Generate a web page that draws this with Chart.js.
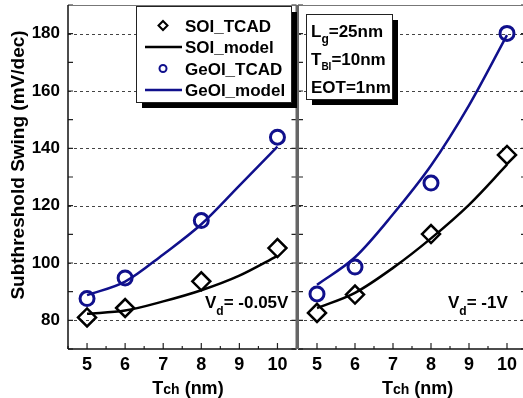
<!DOCTYPE html>
<html>
<head>
<meta charset="utf-8">
<script src="https://cdn.jsdelivr.net/npm/chart.js@4.4.1/dist/chart.umd.min.js"></script>
<style>
  body { margin: 0; width: 523px; height: 398px; overflow: hidden; background: #fff; position: relative; }
  canvas { position: absolute; top: 0; }
</style>
</head>
<body>
<canvas id="left" width="298" height="398" style="left:0"></canvas>
<canvas id="right" width="229" height="398" style="left:297px"></canvas>
<script>
const tch = [5, 6, 8, 10];
const tchModel = [5, 6, 7, 8, 9, 10];
const xTicks = [5, 6, 7, 8, 9, 10];
const yTicks = [80, 100, 120, 140, 160, 180];

// Vd = -0.05 V
const soiTcadLow = [81, 84.3, 93.6, 105.2];
const soiModelLow = [82.3, 83.4, 86.6, 90.5, 95.6, 102.5];
const geoiTcadLow = [87.6, 94.8, 114.8, 143.9];
const geoiModelLow = [88.8, 93.5, 103, 113.5, 127, 140.6];

// Vd = -1 V
const soiTcadHigh = [82.6, 89, 110.1, 137.7];
const soiModelHigh = [84.3, 89.6, 98.3, 108.6, 120.3, 134.3];
const geoiTcadHigh = [89.2, 98.6, 127.9, 180.1];
const geoiModelHigh = [92.4, 102, 117, 134, 155, 179.5];

const BLACK = '#000';
const BLUE = '#10108c';
const FONT = 'Arial, "Liberation Sans", sans-serif';

const pts = (xs, ys) => xs.map((x, i) => ({ x, y: ys[i] }));

function buildDatasets(soiT, soiM, geT, geM) {
  return [
    { label: 'SOI_TCAD', data: pts(tch, soiT), pointStyle: 'rectRot', pointRadius: 9,
      borderColor: BLACK, borderWidth: 2.5, backgroundColor: 'transparent', showLine: false },
    { label: 'GeOI_TCAD', data: pts(tch, geT), pointStyle: 'circle', pointRadius: 7,
      borderColor: BLUE, borderWidth: 3, backgroundColor: 'transparent', showLine: false },
    { label: 'SOI_model', data: pts(tchModel, soiM), showLine: true, pointRadius: 0,
      borderColor: BLACK, borderWidth: 2.5, cubicInterpolationMode: 'monotone' },
    { label: 'GeOI_model', data: pts(tchModel, geM), showLine: true, pointRadius: 0,
      borderColor: BLUE, borderWidth: 2.5, cubicInterpolationMode: 'monotone' }
  ];
}

// text with subscripts: parts = [[text, size, dy], ...]
function richText(ctx, x, y, parts) {
  ctx.textBaseline = 'alphabetic';
  ctx.textAlign = 'left';
  for (const [t, size, dy] of parts) {
    ctx.font = 'bold ' + size + 'px ' + FONT;
    ctx.fillText(t, x, y + (dy || 0));
    x += ctx.measureText(t).width;
  }
  return x;
}
function richWidth(ctx, parts) {
  let w = 0;
  for (const [t, size] of parts) {
    ctx.font = 'bold ' + size + 'px ' + FONT;
    w += ctx.measureText(t).width;
  }
  return w;
}

function shadowBox(ctx, x, y, w, h) {
  ctx.fillStyle = BLACK;
  ctx.fillRect(x + 6, y + 6, w, h);
  ctx.fillStyle = '#fff';
  ctx.fillRect(x, y, w, h);
  ctx.strokeStyle = '#222';
  ctx.lineWidth = 1;
  ctx.strokeRect(x + 0.5, y + 0.5, w, h);
}

const panelPlugin = {
  id: 'panel',
  beforeDatasetsDraw(chart) {
    const { ctx, chartArea: a, scales: { y } } = chart;
    ctx.save();
    ctx.strokeStyle = '#444';
    ctx.lineWidth = 1;
    ctx.setLineDash([3, 3]);
    yTicks.forEach(v => {
      const py = Math.round(y.getPixelForValue(v)) + 0.5;
      ctx.beginPath();
      ctx.moveTo(a.left, py);
      ctx.lineTo(a.right, py);
      ctx.stroke();
    });
    ctx.restore();
  },
  afterDatasetsDraw(chart) {
    const { ctx, chartArea: a, scales: { x, y } } = chart;
    const side = chart.options.plugins.panel.side;
    ctx.save();
    ctx.strokeStyle = '#222';
    ctx.lineWidth = 1.2;
    // x ticks, inward
    for (let v = 4.5; v <= 10.5; v += 0.5) {
      const px = x.getPixelForValue(v);
      const len = Number.isInteger(v) ? 6 : 3;
      ctx.beginPath();
      ctx.moveTo(px, a.bottom);
      ctx.lineTo(px, a.bottom - len);
      ctx.stroke();
    }
    // y ticks, inward on both sides
    for (let v = 70; v <= 190; v += 10) {
      const py = y.getPixelForValue(v);
      ctx.beginPath();
      ctx.moveTo(a.left, py);
      ctx.lineTo(a.left + 5, py);
      ctx.moveTo(a.right, py);
      ctx.lineTo(a.right - 5, py);
      ctx.stroke();
    }
    // frame
    ctx.strokeStyle = '#777';
    ctx.lineWidth = 1;
    ctx.beginPath();
    ctx.moveTo(a.left, a.top + 0.5);
    ctx.lineTo(a.right, a.top + 0.5);
    ctx.stroke();
    ctx.strokeStyle = '#111';
    ctx.lineWidth = 1.5;
    ctx.beginPath();
    ctx.moveTo(a.left, a.bottom);
    ctx.lineTo(a.right, a.bottom);
    ctx.stroke();
    ctx.strokeStyle = side === 'left' ? '#111' : '#666';
    ctx.lineWidth = side === 'left' ? 1.5 : 2;
    ctx.beginPath();
    ctx.moveTo(a.left, a.top);
    ctx.lineTo(a.left, a.bottom);
    ctx.stroke();
    if (side === 'left') {
      ctx.strokeStyle = '#666';
      ctx.lineWidth = 2;
      ctx.beginPath();
      ctx.moveTo(a.right, a.top);
      ctx.lineTo(a.right, a.bottom);
      ctx.stroke();
    }
    ctx.restore();
  },
  afterDraw(chart) {
    const { ctx, scales: { x } } = chart;
    const side = chart.options.plugins.panel.side;
    ctx.save();
    ctx.fillStyle = BLACK;

    // x axis title: T with small "ch"
    const xt = [['T', 18], ['ch', 14], [' (nm)', 18]];
    const cx = x.getPixelForValue(7.65);
    richText(ctx, cx - richWidth(ctx, xt) / 2, 394, xt);

    if (side === 'left') {
      // y axis title
      ctx.save();
      ctx.translate(19, 165);
      ctx.rotate(-Math.PI / 2);
      ctx.font = 'bold 19px ' + FONT;
      ctx.textAlign = 'center';
      ctx.textBaseline = 'middle';
      ctx.fillText('Subthreshold Swing (mV/dec)', 0, 0);
      ctx.restore();

      // legend
      shadowBox(ctx, 136, 6, 155, 96);
      const rows = chart.data.datasets;
      const order = ['SOI_TCAD', 'SOI_model', 'GeOI_TCAD', 'GeOI_model'];
      order.forEach((name, i) => {
        const ds = rows.find(d => d.label === name);
        const base = 31.5 + i * 21.5;
        const cy = base - 6;
        ctx.strokeStyle = ds.borderColor;
        ctx.lineWidth = 2;
        ctx.beginPath();
        if (ds.showLine) {
          ctx.lineWidth = 2.5;
          ctx.moveTo(145, cy);
          ctx.lineTo(182, cy);
        } else if (ds.pointStyle === 'rectRot') {
          ctx.moveTo(163, cy - 4.5);
          ctx.lineTo(167.5, cy);
          ctx.lineTo(163, cy + 4.5);
          ctx.lineTo(158.5, cy);
          ctx.closePath();
        } else {
          ctx.arc(163, cy, 3.5, 0, Math.PI * 2);
        }
        ctx.stroke();
        ctx.fillStyle = BLACK;
        richText(ctx, 185, base, [[name, 17]]);
      });

      richText(ctx, 205, 308, [['V', 17], ['d', 12, 7], ['= -0.05V', 17]]);
    } else {
      // parameter box (canvas offset 297)
      shadowBox(ctx, 9, 14, 86, 85);
      ctx.fillStyle = BLACK;
      richText(ctx, 14, 36.5, [['L', 17], ['g', 12, 6], ['=25nm', 17]]);
      richText(ctx, 14, 65, [['T', 17], ['BI', 10, 5], ['=10nm', 17]]);
      richText(ctx, 14, 93.3, [['EOT=1nm', 17]]);

      richText(ctx, 151, 308, [['V', 17], ['d', 12, 7], ['= -1V', 17]]);
    }
    ctx.restore();
  }
};

function makePanel(id, side, datasets) {
  return new Chart(document.getElementById(id), {
    type: 'scatter',
    data: { datasets },
    options: {
      responsive: false,
      animation: false,
      layout: {
        autoPadding: false,
        padding: side === 'left' ? { top: 5, right: 1.5, left: 0, bottom: 0 } : { top: 5, right: 0, left: 1, bottom: 0 }
      },
      plugins: { legend: { display: false }, tooltip: { enabled: false }, panel: { side } },
      scales: {
        x: {
          type: 'linear', min: 4.5, max: 10.5,
          afterBuildTicks: s => { s.ticks = xTicks.map(v => ({ value: v })); },
          afterFit: s => { s.height = 49; s.paddingLeft = 0; s.paddingRight = 0; },
          grid: { display: false, drawTicks: false },
          border: { display: false },
          ticks: { color: BLACK, padding: 5, font: { family: FONT, size: 18, weight: 'bold' } }
        },
        y: {
          type: 'linear', min: 70, max: 190,
          display: side === 'left',
          afterBuildTicks: s => { s.ticks = yTicks.map(v => ({ value: v })); },
          afterFit: s => {
            s.width = side === 'left' ? 68 : 0;
            s.paddingTop = 0;
            s.paddingBottom = 0;
          },
          grid: { display: false, drawTicks: false },
          border: { display: false },
          ticks: { color: BLACK, padding: 8, font: { family: FONT, size: 17, weight: 'bold' } }
        }
      }
    },
    plugins: [panelPlugin]
  });
}

makePanel('left', 'left', buildDatasets(soiTcadLow, soiModelLow, geoiTcadLow, geoiModelLow));
makePanel('right', 'right', buildDatasets(soiTcadHigh, soiModelHigh, geoiTcadHigh, geoiModelHigh));
</script>
</body>
</html>
